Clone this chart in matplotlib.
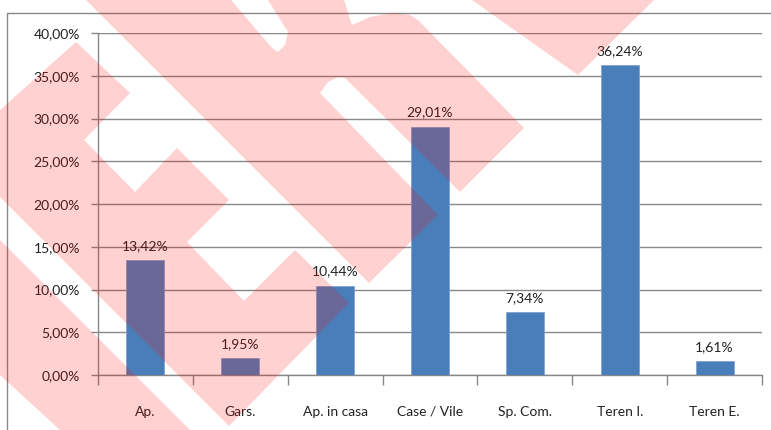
import matplotlib
matplotlib.use("Agg")
import matplotlib.pyplot as plt
from matplotlib.patches import Rectangle, Polygon

categories = ["Ap.", "Gars.", "Ap. in casa", "Case / Vile", "Sp. Com.", "Teren I.", "Teren E."]
values = [13.42, 1.95, 10.44, 29.01, 7.34, 36.24, 1.61]
yticks = [0, 5, 10, 15, 20, 25, 30, 35, 40]

def pct(v):
    return f"{v:.2f}".replace(".", ",") + "%"

plt.rcParams['font.family'] = ['Lato', 'DejaVu Sans']

W, H = 771, 430
fig = plt.figure(figsize=(W / 100, H / 100), dpi=100)
ax = fig.add_axes([98 / W, 1 - 375 / H, (762 - 98) / W, (375 - 33) / H])

x = list(range(len(categories)))
ax.bar(x, values, width=0.4, color="#4A7EBB", edgecolor="#7FA3D0", linewidth=0.6, zorder=3)
for xi, v in zip(x, values):
    ax.annotate(pct(v), (xi, v), xytext=(0, 6), textcoords="offset points",
                ha="center", va="bottom", fontsize=10, color="#222222", zorder=4)

ax.set_xlim(-0.5, len(categories) - 0.5)
ax.set_ylim(0, 40)
ax.set_yticks(yticks)
ax.set_yticklabels([pct(v) for v in yticks], fontsize=10, color="#222222")
ax.yaxis.grid(True, color="#888888", linewidth=1.0, zorder=0)
ax.set_axisbelow(True)

ax.set_xticks([i + 0.5 for i in range(-1, len(categories))], minor=False)
ax.set_xticklabels([])
ax.tick_params(axis="x", length=7, color="#888888", width=1)
ax.set_xticks(x, minor=True)
ax.set_xticklabels(categories, minor=True, fontsize=10, color="#222222")
ax.tick_params(axis="x", which="minor", length=0, pad=22)
ax.tick_params(axis="y", length=5, color="#888888", width=1, pad=8)

for s in ["top", "right"]:
    ax.spines[s].set_visible(False)
for s in ["left", "bottom"]:
    ax.spines[s].set_color("#888888")
    ax.spines[s].set_linewidth(1.0)

fig.patches.append(Rectangle((7 / W, -0.1), 1.2, 1.1 - 13 / H, transform=fig.transFigure,
                             fill=False, edgecolor="#888888", linewidth=1.0))

# semi-transparent watermark overlay (pixel coordinates of the picture)
wm_shapes = [
    [(86, 0), (231, 0), (272, 48), (278, 52), (285, 45), (288, 32), (268, 0), (344, 0),
     (352, 25), (370, 17), (393, 13), (410, 15), (418, 20), (524, 128), (460, 192),
     (345, 78), (338, 77), (328, 82), (320, 93), (438, 215), (369, 283)],
    [(472, 0), (578, 75), (654, 0)],
    [(0, 110), (76, 42), (130, 93), (84, 140), (135, 192), (177, 148), (229, 200),
     (187, 242), (244, 301), (295, 250), (349, 303), (229, 426), (0, 197)],
    [(0, 240), (190, 430), (60, 430), (0, 375)],
]
wm = fig.add_axes([0, 0, 1, 1], zorder=10)
wm.set_xlim(0, W)
wm.set_ylim(H, 0)
wm.axis("off")
wm.patch.set_alpha(0)
for pts in wm_shapes:
    wm.add_patch(Polygon(pts, closed=True, facecolor=(1, 0, 0), alpha=0.18, edgecolor="none"))

fig.savefig("out.png", dpi=100)
